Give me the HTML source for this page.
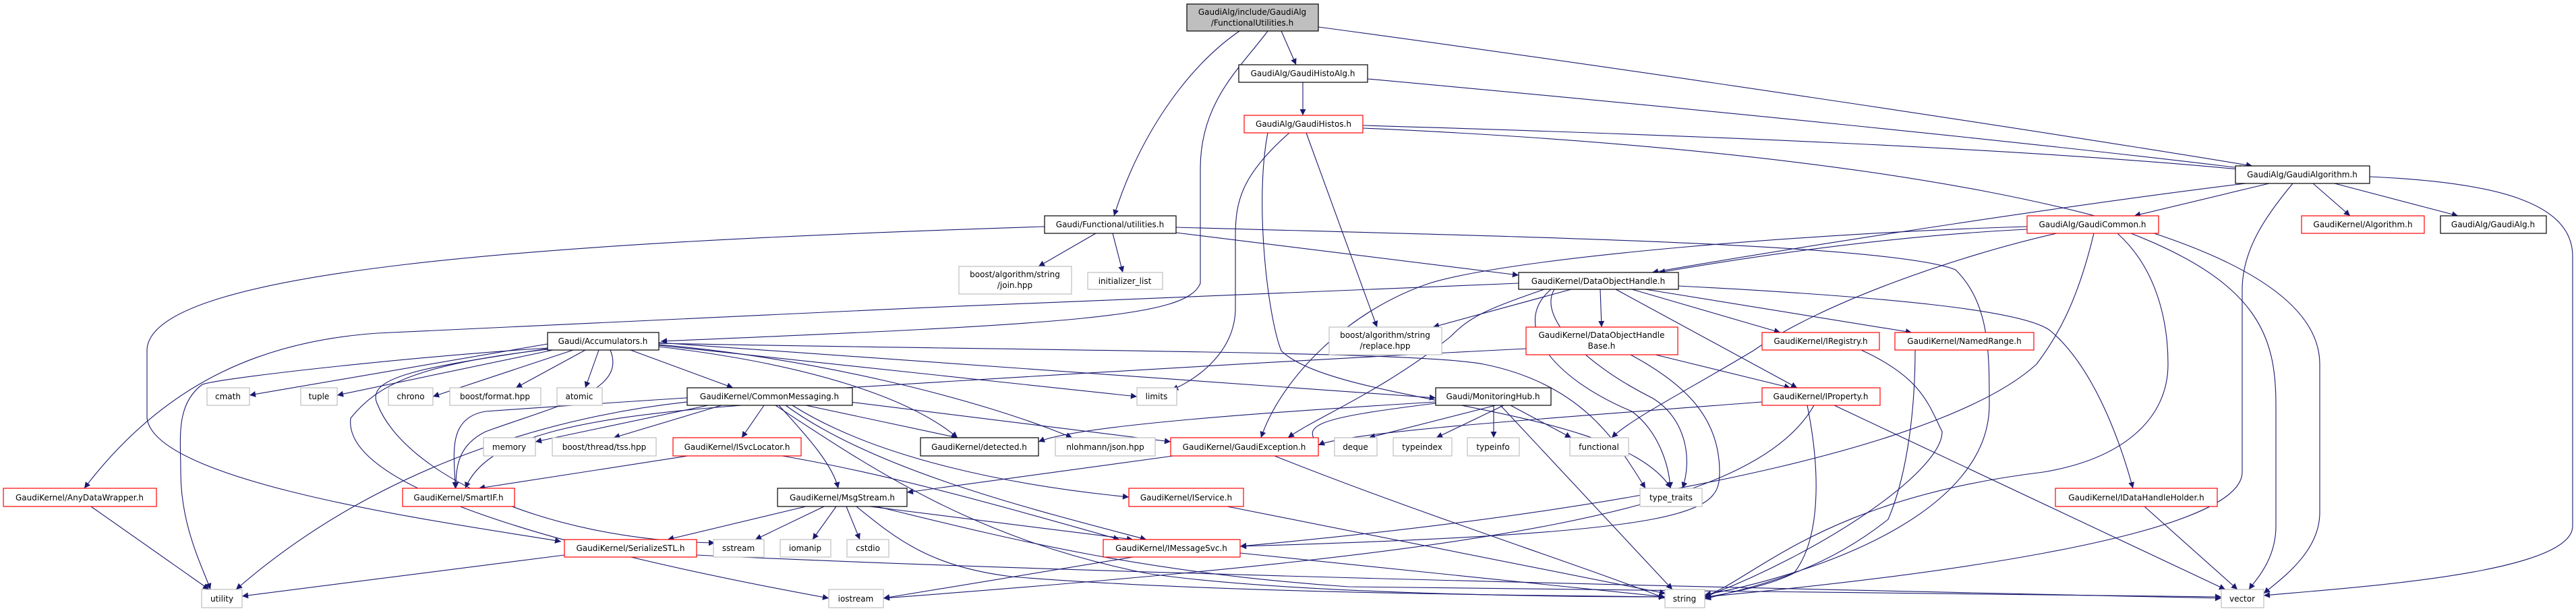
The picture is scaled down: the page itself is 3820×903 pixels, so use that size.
<!DOCTYPE html>
<html><head><meta charset="utf-8"><style>
html,body{margin:0;padding:0;background:#fff;}
svg{display:block;}
text{font-family:"DejaVu Sans","Liberation Sans",sans-serif;font-size:12px;fill:#000;text-anchor:middle;}
.e{fill:none;stroke:#191970;stroke-width:1.1;marker-end:url(#a);}
.b{fill:#fff;stroke:#000;stroke-width:1.2;}
.r{fill:#fff;stroke:#ff0000;stroke-width:1.2;}
.g{fill:#fff;stroke:#bfbfbf;stroke-width:1.2;}
</style></head><body>
<svg width="3820" height="903" viewBox="0 0 3820 903" xmlns="http://www.w3.org/2000/svg">
<defs><marker id="a" viewBox="0 0 10 10" refX="10" refY="5" markerWidth="10" markerHeight="9" markerUnits="userSpaceOnUse" orient="auto"><path d="M0,0 L10,5 L0,10 z" fill="#191970"/></marker></defs>

<!-- edges -->
<path class="e" d="M1900,46 L1922,96"/>
<path class="e" d="M1838,46 C1760,100 1690,200 1652,320"/>
<path class="e" d="M1880,46 C1840,100 1780,150 1780,250 L1780,420 C1760,470 1600,480 980,506"/>
<path class="e" d="M1955,40 C2400,100 3000,190 3340,246"/>
<path class="e" d="M1932,122 L1932,171"/>
<path class="e" d="M2028,117 C2500,160 3000,210 3330,250"/>
<path class="e" d="M2021,186 C2500,200 3000,220 3330,252"/>
<path class="e" d="M1912,197 C1840,260 1832,300 1832,350 L1832,460 C1830,520 1780,560 1738,578"/>
<path class="e" d="M1937,197 L2042,485"/>
<path class="e" d="M1880,197 C1860,300 1880,470 1900,520 C1980,600 2400,600 2478,724"/>
<path class="e" d="M2021,190 C2600,215 3440,300 3440,540 L3440,760 C3440,820 3380,860 3357,880"/>
<path class="e" d="M3365,272 L3165,320"/>
<path class="e" d="M3330,272 C3100,300 2700,360 2450,404"/>
<path class="e" d="M3430,272 L3485,320"/>
<path class="e" d="M3462,272 L3645,320"/>
<path class="e" d="M3400,272 C3360,320 3325,370 3325,430 L3325,700 C3325,800 2800,860 2528,885"/>
<path class="e" d="M3514,262 C3700,270 3815,300 3815,380 L3815,780 C3815,850 3500,870 3357,883"/>
<path class="e" d="M3006,340 C2800,350 2600,380 2460,404"/>
<path class="e" d="M3050,346 C2900,380 2700,450 2600,520 C2500,580 2420,620 2390,649"/>
<path class="e" d="M3006,336 C2700,345 2250,380 2120,420 C2000,460 1900,560 1870,649"/>
<path class="e" d="M3105,346 C3080,450 3050,500 3020,540 C2900,650 2500,750 1839,810"/>
<path class="e" d="M3140,346 C3200,400 3215,480 3215,540 C3215,620 3150,680 3030,700 C2700,740 2600,860 2528,884"/>
<path class="e" d="M3160,346 C3350,420 3375,500 3375,600 L3375,780 C3375,830 3345,860 3335,874"/>
<path class="e" d="M2330,429 L2125,485"/>
<path class="e" d="M2373,429 L2375,485"/>
<path class="e" d="M2420,429 L2640,493"/>
<path class="e" d="M2440,429 L2835,493"/>
<path class="e" d="M2396,429 L2665,575"/>
<path class="e" d="M2489,424 C2800,440 3000,460 3040,490 C3100,540 3140,640 3163,724"/>
<path class="e" d="M2252,420 C1900,434 1000,470 560,494 C400,505 250,560 125,724"/>
<path class="e" d="M1549,336 C800,360 218,400 218,520 L218,620 C230,720 700,780 832,803"/>
<path class="e" d="M2290,429 C2200,460 2180,470 2150,500 C2050,580 1950,620 1910,649"/>
<path class="e" d="M2300,429 C2240,480 2300,560 2420,610 C2460,640 2475,690 2477,724"/>
<path class="e" d="M2305,429 C2280,470 2350,540 2450,590 C2500,620 2510,680 2495,724"/>
<path class="e" d="M2455,526 L2655,575"/>
<path class="e" d="M2418,526 C2500,570 2550,620 2550,700 C2550,760 2520,790 1839,810"/>
<path class="e" d="M2263,517 C1800,540 1000,590 720,610 C660,620 675,680 675,724"/>
<path class="e" d="M812,510 L370,586"/>
<path class="e" d="M820,519 L500,586"/>
<path class="e" d="M850,519 L642,588"/>
<path class="e" d="M868,519 L765,575"/>
<path class="e" d="M888,519 L868,575"/>
<path class="e" d="M935,519 L1087,575"/>
<path class="e" d="M977,512 L1686,588"/>
<path class="e" d="M977,514 C1200,540 1350,590 1420,649"/>
<path class="e" d="M977,511 C1200,530 1450,590 1590,649"/>
<path class="e" d="M977,508 L2129,590"/>
<path class="e" d="M977,509 C1500,520 2100,520 2200,540 C2350,570 2400,660 2440,724"/>
<path class="e" d="M812,516 C600,530 330,560 300,570 C260,600 268,650 268,700 C268,780 300,840 312,874"/>
<path class="e" d="M812,517 C620,545 540,560 560,600 C600,700 800,800 1060,805"/>
<path class="e" d="M905,519 C930,580 830,600 720,640 C680,660 676,690 676,724"/>
<path class="e" d="M812,518 C620,540 560,570 520,620 C510,700 700,790 1229,887"/>
<path class="e" d="M1133,601 L1100,649"/>
<path class="e" d="M1195,601 L1420,649"/>
<path class="e" d="M1260,596 L1736,655"/>
<path class="e" d="M1155,601 C1200,650 1235,690 1243,724"/>
<path class="e" d="M1175,601 C1300,680 1500,720 1674,737"/>
<path class="e" d="M1165,601 C1300,700 1550,760 1700,800"/>
<path class="e" d="M1100,601 C850,620 720,650 690,724"/>
<path class="e" d="M1050,601 L794,655"/>
<path class="e" d="M1070,601 L910,649"/>
<path class="e" d="M1019,596 C800,620 550,700 350,874"/>
<path class="e" d="M1150,601 C1300,700 1450,800 1700,850 C1900,880 2300,885 2469,885"/>
<path class="e" d="M2218,601 L2030,649"/>
<path class="e" d="M2230,601 L2130,649"/>
<path class="e" d="M2215,601 L2215,649"/>
<path class="e" d="M2240,601 L2330,649"/>
<path class="e" d="M2225,601 L2480,874"/>
<path class="e" d="M2129,596 C1900,610 1600,630 1540,655"/>
<path class="e" d="M2129,598 C1950,620 1930,630 1955,660"/>
<path class="e" d="M1020,676 L710,724"/>
<path class="e" d="M1160,676 C1300,700 1450,740 1660,800"/>
<path class="e" d="M1740,676 L1345,730"/>
<path class="e" d="M1890,676 C2100,760 2350,840 2469,887"/>
<path class="e" d="M1195,751 L990,800"/>
<path class="e" d="M1222,751 L1120,800"/>
<path class="e" d="M1240,751 L1205,800"/>
<path class="e" d="M1255,751 L1275,800"/>
<path class="e" d="M1290,751 L1680,800"/>
<path class="e" d="M1270,751 C1330,800 1380,840 1500,855 C1800,880 2300,883 2469,885"/>
<path class="e" d="M1300,751 C1500,800 1700,850 2000,870 C2600,880 3100,884 3294,885"/>
<path class="e" d="M1820,751 L2470,880"/>
<path class="e" d="M837,823 L359,884"/>
<path class="e" d="M1033,823 C1600,850 2500,870 3294,887"/>
<path class="e" d="M1680,826 L1310,887"/>
<path class="e" d="M1839,820 L2469,885"/>
<path class="e" d="M2760,519 C2850,560 2860,600 2880,640 C2880,700 2700,820 2528,885"/>
<path class="e" d="M2840,519 C2840,600 2830,700 2800,770 C2700,850 2600,870 2528,888"/>
<path class="e" d="M2613,596 C2300,620 2000,640 1955,660"/>
<path class="e" d="M2680,601 C2700,700 2700,800 2660,850 C2620,870 2560,880 2528,886"/>
<path class="e" d="M2690,601 C2600,760 2200,820 1310,887"/>
<path class="e" d="M2720,601 L3300,874"/>
<path class="e" d="M3180,751 L3318,874"/>
<path class="e" d="M135,751 L310,874"/>
<path class="e" d="M1625,346 L1540,395"/>
<path class="e" d="M1650,346 L1665,404"/>
<path class="e" d="M1744,345 L2252,408"/>
<path class="e" d="M1744,337 C2200,350 2800,360 2900,400 C2950,450 2950,520 2950,600 C2950,760 2700,850 2528,882"/>

<!-- nodes -->
<rect x="1760" y="6" width="195" height="40" fill="#bfbfbf" stroke="#000" stroke-width="1.2"/>
<text x="1857" y="22">GaudiAlg/include/GaudiAlg</text><text x="1857" y="38">/FunctionalUtilities.h</text>
<rect class="b" x="1837" y="96" width="191" height="26"/><text x="1932" y="113">GaudiAlg/GaudiHistoAlg.h</text>
<rect class="r" x="1845" y="171" width="176" height="26"/><text x="1933" y="188">GaudiAlg/GaudiHistos.h</text>
<rect class="b" x="3315" y="246" width="199" height="26"/><text x="3414" y="263">GaudiAlg/GaudiAlgorithm.h</text>
<rect class="r" x="3006" y="320" width="195" height="26"/><text x="3103" y="337">GaudiAlg/GaudiCommon.h</text>
<rect class="r" x="3413" y="320" width="182" height="26"/><text x="3504" y="337">GaudiKernel/Algorithm.h</text>
<rect class="b" x="3619" y="320" width="157" height="26"/><text x="3697" y="337">GaudiAlg/GaudiAlg.h</text>
<rect class="b" x="1549" y="320" width="195" height="26"/><text x="1646" y="337">Gaudi/Functional/utilities.h</text>
<rect class="g" x="1422" y="395" width="167" height="41"/><text x="1505" y="411">boost/algorithm/string</text><text x="1505" y="427">/join.hpp</text>
<rect class="g" x="1613" y="404" width="111" height="25"/><text x="1668" y="421">initializer_list</text>
<rect class="b" x="2252" y="404" width="237" height="25"/><text x="2370" y="421">GaudiKernel/DataObjectHandle.h</text>
<rect class="b" x="812" y="493" width="165" height="26"/><text x="894" y="510">Gaudi/Accumulators.h</text>
<rect class="g" x="1971" y="485" width="167" height="41"/><text x="2054" y="501">boost/algorithm/string</text><text x="2054" y="517">/replace.hpp</text>
<rect class="r" x="2263" y="485" width="225" height="41"/><text x="2375" y="501">GaudiKernel/DataObjectHandle</text><text x="2375" y="517">Base.h</text>
<rect class="r" x="2613" y="493" width="174" height="26"/><text x="2700" y="510">GaudiKernel/IRegistry.h</text>
<rect class="r" x="2810" y="493" width="206" height="26"/><text x="2913" y="510">GaudiKernel/NamedRange.h</text>
<rect class="g" x="307" y="575" width="63" height="26"/><text x="338" y="592">cmath</text>
<rect class="g" x="446" y="575" width="54" height="26"/><text x="473" y="592">tuple</text>
<rect class="g" x="576" y="575" width="66" height="26"/><text x="609" y="592">chrono</text>
<rect class="g" x="667" y="575" width="135" height="26"/><text x="734" y="592">boost/format.hpp</text>
<rect class="g" x="826" y="575" width="67" height="26"/><text x="859" y="592">atomic</text>
<rect class="b" x="1019" y="575" width="245" height="26"/><text x="1141" y="592">GaudiKernel/CommonMessaging.h</text>
<rect class="g" x="1686" y="575" width="59" height="26"/><text x="1715" y="592">limits</text>
<rect class="b" x="2129" y="575" width="171" height="26"/><text x="2214" y="592">Gaudi/MonitoringHub.h</text>
<rect class="r" x="2613" y="575" width="175" height="26"/><text x="2700" y="592">GaudiKernel/IProperty.h</text>
<rect class="g" x="717" y="649" width="77" height="27"/><text x="755" y="667">memory</text>
<rect class="g" x="819" y="649" width="154" height="27"/><text x="896" y="667">boost/thread/tss.hpp</text>
<rect class="r" x="998" y="649" width="190" height="27"/><text x="1093" y="667">GaudiKernel/ISvcLocator.h</text>
<rect class="b" x="1365" y="649" width="175" height="27"/><text x="1452" y="667">GaudiKernel/detected.h</text>
<rect class="g" x="1565" y="649" width="148" height="27"/><text x="1639" y="667">nlohmann/json.hpp</text>
<rect class="r" x="1736" y="649" width="219" height="27"/><text x="1845" y="667">GaudiKernel/GaudiException.h</text>
<rect class="g" x="1979" y="649" width="63" height="27"/><text x="2010" y="667">deque</text>
<rect class="g" x="2066" y="649" width="87" height="27"/><text x="2109" y="667">typeindex</text>
<rect class="g" x="2176" y="649" width="77" height="27"/><text x="2214" y="667">typeinfo</text>
<rect class="g" x="2328" y="649" width="87" height="27"/><text x="2371" y="667">functional</text>
<rect class="r" x="5" y="724" width="227" height="27"/><text x="118" y="742">GaudiKernel/AnyDataWrapper.h</text>
<rect class="r" x="597" y="724" width="166" height="27"/><text x="680" y="742">GaudiKernel/SmartIF.h</text>
<rect class="b" x="1153" y="724" width="192" height="27"/><text x="1249" y="742">GaudiKernel/MsgStream.h</text>
<rect class="r" x="1674" y="724" width="170" height="27"/><text x="1759" y="742">GaudiKernel/IService.h</text>
<rect class="g" x="2432" y="724" width="92" height="27"/><text x="2478" y="742">type_traits</text>
<rect class="r" x="3048" y="724" width="240" height="27"/><text x="3168" y="742">GaudiKernel/IDataHandleHolder.h</text>
<rect class="r" x="837" y="800" width="196" height="26"/><text x="935" y="817">GaudiKernel/SerializeSTL.h</text>
<rect class="g" x="1058" y="800" width="75" height="26"/><text x="1095" y="817">sstream</text>
<rect class="g" x="1157" y="800" width="75" height="26"/><text x="1194" y="817">iomanip</text>
<rect class="g" x="1256" y="800" width="62" height="26"/><text x="1287" y="817">cstdio</text>
<rect class="r" x="1636" y="800" width="203" height="26"/><text x="1737" y="817">GaudiKernel/IMessageSvc.h</text>
<rect class="g" x="299" y="874" width="60" height="27"/><text x="329" y="892">utility</text>
<rect class="g" x="1229" y="874" width="81" height="27"/><text x="1269" y="892">iostream</text>
<rect class="g" x="2469" y="874" width="59" height="27"/><text x="2498" y="892">string</text>
<rect class="g" x="3294" y="874" width="63" height="27"/><text x="3325" y="892">vector</text>
</svg>
</body></html>
